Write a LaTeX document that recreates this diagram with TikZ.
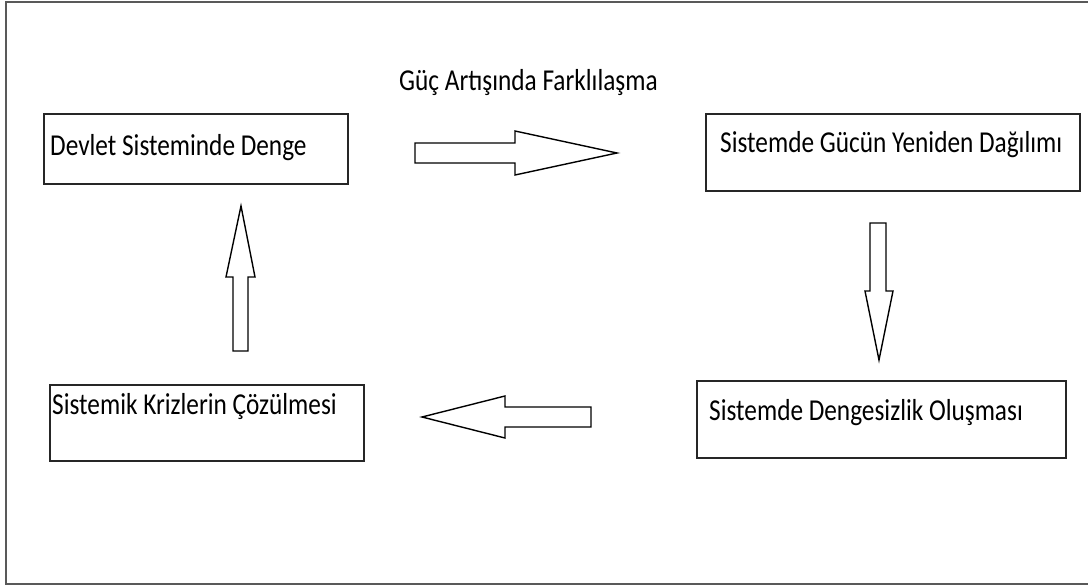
\documentclass[tikz,border=0pt]{standalone}
\usepackage{fontspec}
\setmainfont{Carlito}
\usepackage{tikz}

\newcommand{\tall}[1]{\scalebox{1}[1.2]{#1}}

\tikzset{
    box/.style = {draw=black!85, line width=1.6pt, inner sep=0pt},
    lbl/.style = {anchor=west, inner sep=0pt, font=\fontsize{25.3}{30}\selectfont},
    fat/.style = {draw=black, line width=1.4pt, fill=white, line join=miter},
    frame/.style = {draw=black!65, line width=2pt}
}

\begin{document}
\begin{tikzpicture}[x=1pt, y=-1pt]
    \useasboundingbox (0, 0) rectangle (1088, 586);
    \draw[frame] (1088, 2) -- (6, 2) -- (6, 584) -- (1088, 584);

    \node[lbl] (guc) at (399, 83) {\tall{Güç Artışında Farklılaşma}};

    \node[box, minimum width=304, minimum height=70] (denge) at (196, 149) {};
    \node[lbl] (dengeT) at (50, 148) {\tall{Devlet Sisteminde Denge}};
    \node[box, minimum width=374, minimum height=77] (dagilim) at (893, 152.5) {};
    \node[lbl] (dagilimT) at (720, 145) {\tall{Sistemde Gücün Yeniden Dağılımı}};
    \node[box, minimum width=369, minimum height=77] (dengesiz) at (881.5, 419.5) {};
    \node[lbl] (dengesizT) at (709, 413) {\tall{Sistemde Dengesizlik Oluşması}};
    \node[box, minimum width=314, minimum height=76] (kriz) at (207, 423) {};
    \node[lbl] (krizT) at (52, 407) {\tall{Sistemik Krizlerin Çözülmesi}};

    \draw[fat] (415, 143) -- (515, 143) -- (515, 131) -- (617, 153) -- (515, 175) -- (515, 163) -- (415, 163) -- cycle;
    \draw[fat] (870, 223) -- (886, 223) -- (886, 291) -- (893, 291) -- (879, 360) -- (865, 291) -- (870, 291) -- cycle;
    \draw[fat] (591, 407) -- (505, 407) -- (505, 396) -- (422, 417) -- (505, 438) -- (505, 427) -- (591, 427) -- cycle;
    \draw[fat] (233, 351) -- (233, 277) -- (226, 277) -- (241, 206) -- (255, 277) -- (248, 277) -- (248, 351) -- cycle;
\end{tikzpicture}
\end{document}
